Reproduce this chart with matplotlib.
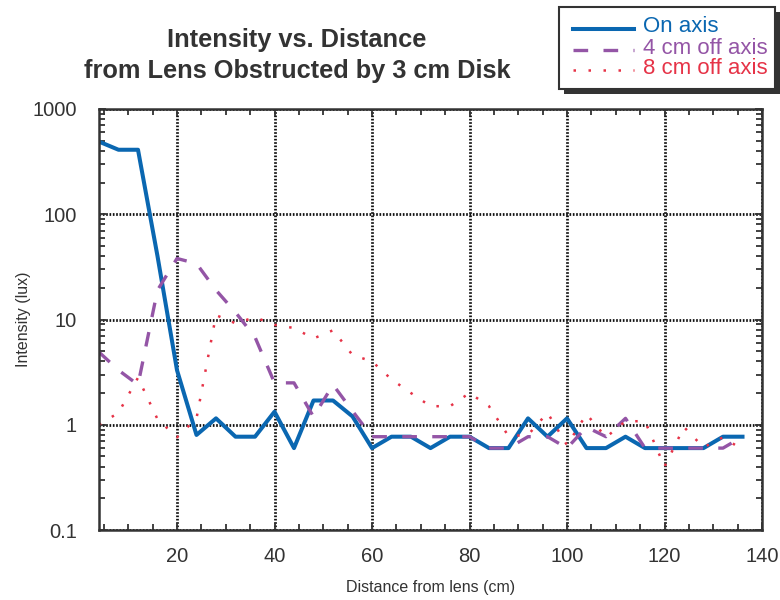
import matplotlib
matplotlib.use("Agg")
import matplotlib.pyplot as plt
from matplotlib.lines import Line2D
from matplotlib.patches import Rectangle
from matplotlib.ticker import FixedLocator, FixedFormatter, LogLocator, MultipleLocator, NullFormatter

plt.rcParams['font.family'] = ['Liberation Sans', 'DejaVu Sans']

# distance from lens (cm)
distance = [4, 8, 12, 16, 20, 24, 28, 32, 36, 40, 44, 48, 52, 56, 60, 64, 68,
            72, 76, 80, 84, 88, 92, 96, 100, 104, 108, 112, 116, 120, 124, 128, 132, 136]

# intensity (lux)
on_axis = [490, 410, 410, 40, 3.3, 0.8, 1.15, 0.77, 0.77, 1.33, 0.6, 1.7, 1.7, 1.2, 0.6, 0.77, 0.77,
           0.6, 0.77, 0.77, 0.6, 0.6, 1.15, 0.77, 1.15, 0.6, 0.6, 0.77, 0.6, 0.6, 0.6, 0.6, 0.77, 0.77]
off_4cm = [4.9, 3.3, 2.4, 19, 38, 34, 19, 11.7, 6.8, 2.5, 2.5, 1.19, 2.4, 1.35, 0.77, 0.77, 0.77,
           0.77, 0.77, 0.77, 0.6, 0.6, 0.77, 0.77, 0.6, 0.95, 0.77, 1.15, 0.6, 0.6, 0.6, 0.6, 0.6, 0.77]
off_8cm = [1.0, 1.3, 2.8, 1.13, 0.76, 1.15, 11, 9.2, 10.5, 8.9, 8.3, 6.6, 7.9, 4.6, 4.0, 2.7, 2.0,
           1.5, 1.5, 2.0, 1.5, 0.78, 0.8, 1.3, 0.64, 1.26, 0.76, 1.08, 1.08, 0.4, 0.95, 0.61, 0.76, 0.58]

series_labels = ["On axis", "4 cm off axis", "8 cm off axis"]
x_ticks = [20, 40, 60, 80, 100, 120, 140]
y_ticks = [0.1, 1, 10, 100, 1000]
y_tick_labels = ["0.1", "1", "10", "100", "1000"]

BLUE = '#0a67b1'
PURPLE = '#9455a6'
RED = '#e63347'
TEXT = '#333333'

styles = [
    dict(color=BLUE, lw=2.9, linestyle='-'),
    dict(color=PURPLE, lw=2.4, linestyle=(0, (4.4, 4.6)), dash_capstyle='butt'),
    dict(color=RED, lw=1.8, linestyle=(0, (1, 5)), dash_capstyle='butt'),
]

fig = plt.figure(figsize=(7.8, 6), dpi=100)
ax = fig.add_axes([99 / 780, 70 / 600, 663 / 780, 421 / 600])

for ys, st in zip([on_axis, off_4cm, off_8cm], styles):
    ax.plot(distance, ys, **st)

ax.set_yscale('log')
ax.set_xlim(4, 140)
ax.set_ylim(0.1, 1000)

ax.xaxis.set_major_locator(FixedLocator(x_ticks))
ax.xaxis.set_minor_locator(MultipleLocator(5))
ax.yaxis.set_major_locator(FixedLocator(y_ticks))
ax.yaxis.set_major_formatter(FixedFormatter(y_tick_labels))
ax.yaxis.set_minor_locator(LogLocator(base=10, subs=range(2, 10)))
ax.yaxis.set_minor_formatter(NullFormatter())

ax.tick_params(which='both', direction='in', top=True, right=True, color='#333333', width=1.3)
ax.tick_params(which='major', length=5, labelsize=14.5, labelcolor=TEXT)
ax.tick_params(which='minor', length=4)
ax.tick_params(axis='x', which='major', pad=12)
ax.tick_params(axis='y', which='major', pad=16)

ax.grid(True, which='major', color='#111111', lw=2.0, linestyle=(0, (0.6, 0.6)))
ax.set_axisbelow(True)
for sp in ax.spines.values():
    sp.set_color('#333333')
    sp.set_linewidth(1.8)

ax.set_xlabel("Distance from lens (cm)", fontsize=11.5, color=TEXT)
ax.set_ylabel("Intensity (lux)", fontsize=11.5, color=TEXT)
ax.xaxis.set_label_coords(0.5, -0.118)
ax.yaxis.set_label_coords(-0.102, 0.5)

# title, two lines left of the axes centre
fig.text(297 / 780, 1 - 47 / 600, "Intensity vs. Distance", ha='center', va='baseline',
         fontsize=18.3, fontweight='bold', color=TEXT)
fig.text(297 / 780, 1 - 78 / 600, "from Lens Obstructed by 3 cm Disk", ha='center', va='baseline',
         fontsize=18.3, fontweight='bold', color=TEXT)

# legend box with a hard shadow
bx0, bx1 = 559 / 780, 775 / 780
by0, by1 = 1 - 89 / 600, 1 - 7 / 600
fig.add_artist(Rectangle((bx0 + 5 / 780, by0 - 5 / 600), bx1 - bx0, by1 - by0, transform=fig.transFigure,
                         facecolor='#333333', edgecolor='none'))
fig.add_artist(Rectangle((bx0, by0), bx1 - bx0, by1 - by0, transform=fig.transFigure,
                         facecolor='white', edgecolor='#333333', lw=1.5))
line_rows = [29, 50, 70]
text_rows = [27, 48, 68]
for lab, st, ly, ty in zip(series_labels, styles, line_rows, text_rows):
    fig.add_artist(Line2D([573 / 780, 634 / 780], [1 - ly / 600, 1 - ly / 600], transform=fig.transFigure, **st))
    fig.text(643 / 780, 1 - ty / 600, lab, ha='left', va='center', fontsize=16, color=st['color'])

fig.savefig("out.png", dpi=100)
